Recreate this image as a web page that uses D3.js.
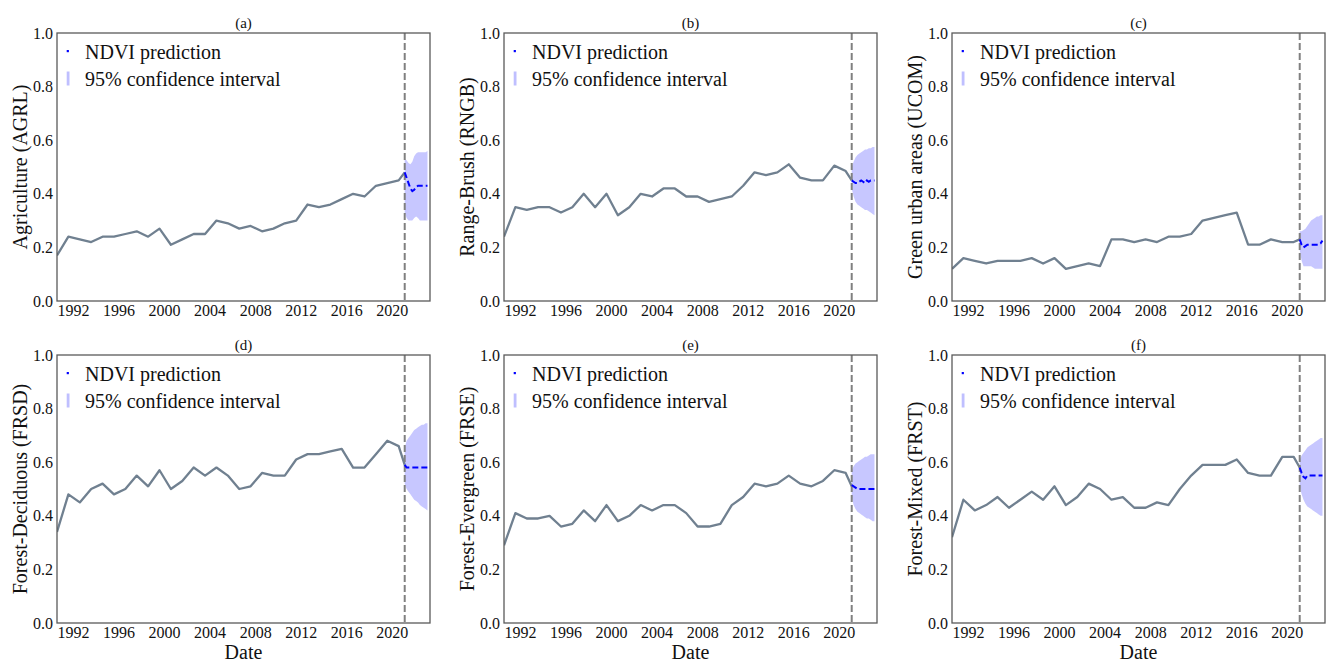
<!DOCTYPE html>
<html>
<head>
<meta charset="utf-8">
<script src="https://cdn.jsdelivr.net/npm/d3@7"></script>
<style>
  html, body { margin: 0; padding: 0; background: #fff; }
  svg { display: block; }
  svg text { font-family: "Liberation Serif", "Times New Roman", serif; }
</style>
</head>
<body>
<svg id="chart" width="1329" height="662"></svg>
<script>
// Observation dates (decimal years) and the forecast dates
const obsDates = d3.range(31).map(i => 1990.6 + i).concat([2021.13]);
const predDates = d3.range(13).map(i => 2021.13 + i / 6);
const forecastStart = 2021.13;
const yearTicks = [1992, 1996, 2000, 2004, 2008, 2012, 2016, 2020];
const valueTicks = [0, 0.2, 0.4, 0.6, 0.8, 1.0];

const panelLetters = ["(a)", "(b)", "(c)", "(d)", "(e)", "(f)"];
const panelLabels = [
  "Agriculture (AGRL)", "Range-Brush (RNGB)", "Green urban areas (UCOM)",
  "Forest-Deciduous (FRSD)", "Forest-Evergreen (FRSE)", "Forest-Mixed (FRST)"
];

// Observed NDVI per land-use class
const ndviAGRL = [0.17, 0.24, 0.23, 0.22, 0.24, 0.24, 0.25, 0.26, 0.24, 0.27, 0.21, 0.23, 0.25, 0.25, 0.30, 0.29,
                  0.27, 0.28, 0.26, 0.27, 0.29, 0.30, 0.36, 0.35, 0.36, 0.38, 0.40, 0.39, 0.43, 0.44, 0.45, 0.48];
const ndviRNGB = [0.24, 0.35, 0.34, 0.35, 0.35, 0.33, 0.35, 0.40, 0.35, 0.40, 0.32, 0.35, 0.40, 0.39, 0.42, 0.42,
                  0.39, 0.39, 0.37, 0.38, 0.39, 0.43, 0.48, 0.47, 0.48, 0.51, 0.46, 0.45, 0.45, 0.505, 0.485, 0.45];
const ndviUCOM = [0.12, 0.16, 0.15, 0.14, 0.15, 0.15, 0.15, 0.16, 0.14, 0.16, 0.12, 0.13, 0.14, 0.13, 0.23, 0.23,
                  0.22, 0.23, 0.22, 0.24, 0.24, 0.25, 0.30, 0.31, 0.32, 0.33, 0.21, 0.21, 0.23, 0.22, 0.22, 0.23];
const ndviFRSD = [0.34, 0.48, 0.45, 0.50, 0.52, 0.48, 0.50, 0.55, 0.51, 0.57, 0.50, 0.53, 0.58, 0.55, 0.58, 0.55,
                  0.50, 0.51, 0.56, 0.55, 0.55, 0.61, 0.63, 0.63, 0.64, 0.65, 0.58, 0.58, 0.63, 0.68, 0.66, 0.59];
const ndviFRSE = [0.29, 0.41, 0.39, 0.39, 0.40, 0.36, 0.37, 0.42, 0.38, 0.44, 0.38, 0.40, 0.44, 0.42, 0.44, 0.44,
                  0.41, 0.36, 0.36, 0.37, 0.44, 0.47, 0.52, 0.51, 0.52, 0.55, 0.52, 0.51, 0.53, 0.57, 0.56, 0.51];
const ndviFRST = [0.32, 0.46, 0.42, 0.44, 0.47, 0.43, 0.46, 0.49, 0.46, 0.51, 0.44, 0.47, 0.52, 0.50, 0.46, 0.47,
                  0.43, 0.43, 0.45, 0.44, 0.50, 0.55, 0.59, 0.59, 0.59, 0.61, 0.56, 0.55, 0.55, 0.62, 0.62, 0.58];

// Forecast mean with lower / upper 95% bounds
const predAGRL  = [0.48, 0.46, 0.44, 0.42, 0.41, 0.415, 0.425, 0.43, 0.43, 0.43, 0.43, 0.43, 0.43];
const lowerAGRL = [0.33, 0.31, 0.30, 0.30, 0.30, 0.31, 0.315, 0.31, 0.30, 0.30, 0.30, 0.30, 0.30];
const upperAGRL = [0.53, 0.525, 0.515, 0.51, 0.52, 0.54, 0.55, 0.555, 0.555, 0.555, 0.555, 0.555, 0.56];

const predRNGB  = [0.45, 0.445, 0.44, 0.44, 0.445, 0.45, 0.445, 0.44, 0.45, 0.445, 0.45, 0.45, 0.45];
const lowerRNGB = [0.42, 0.39, 0.37, 0.36, 0.355, 0.35, 0.345, 0.34, 0.34, 0.335, 0.33, 0.325, 0.32];
const upperRNGB = [0.50, 0.52, 0.535, 0.545, 0.55, 0.555, 0.56, 0.565, 0.565, 0.57, 0.57, 0.575, 0.575];

const predUCOM  = [0.23, 0.21, 0.20, 0.205, 0.21, 0.21, 0.21, 0.21, 0.21, 0.21, 0.21, 0.215, 0.225];
const lowerUCOM = [0.19, 0.15, 0.13, 0.13, 0.13, 0.13, 0.13, 0.125, 0.12, 0.12, 0.12, 0.12, 0.12];
const upperUCOM = [0.26, 0.26, 0.265, 0.27, 0.28, 0.29, 0.30, 0.305, 0.31, 0.315, 0.315, 0.32, 0.32];

const predFRSD  = [0.59, 0.58, 0.58, 0.58, 0.58, 0.58, 0.58, 0.58, 0.58, 0.58, 0.58, 0.58, 0.58];
const lowerFRSD = [0.52, 0.50, 0.49, 0.48, 0.47, 0.46, 0.455, 0.45, 0.44, 0.435, 0.43, 0.425, 0.42];
const upperFRSD = [0.655, 0.68, 0.69, 0.70, 0.71, 0.72, 0.725, 0.73, 0.735, 0.74, 0.74, 0.745, 0.745];

const predFRSE  = [0.515, 0.51, 0.505, 0.50, 0.50, 0.50, 0.50, 0.50, 0.50, 0.50, 0.50, 0.50, 0.50];
const lowerFRSE = [0.47, 0.44, 0.425, 0.415, 0.41, 0.405, 0.40, 0.395, 0.39, 0.39, 0.385, 0.38, 0.38];
const upperFRSE = [0.57, 0.585, 0.595, 0.60, 0.605, 0.61, 0.615, 0.62, 0.62, 0.625, 0.63, 0.63, 0.63];

const predFRST  = [0.58, 0.56, 0.545, 0.54, 0.55, 0.55, 0.55, 0.55, 0.55, 0.55, 0.55, 0.55, 0.55];
const lowerFRST = [0.51, 0.48, 0.46, 0.445, 0.435, 0.43, 0.425, 0.42, 0.415, 0.41, 0.405, 0.40, 0.40];
const upperFRST = [0.61, 0.625, 0.635, 0.645, 0.655, 0.66, 0.665, 0.67, 0.675, 0.68, 0.685, 0.69, 0.69];

const observed = [ndviAGRL, ndviRNGB, ndviUCOM, ndviFRSD, ndviFRSE, ndviFRST];
const predicted = [predAGRL, predRNGB, predUCOM, predFRSD, predFRSE, predFRST];
const lowers = [lowerAGRL, lowerRNGB, lowerUCOM, lowerFRSD, lowerFRSE, lowerFRST];
const uppers = [upperAGRL, upperRNGB, upperUCOM, upperFRSD, upperFRSE, upperFRST];

// Panel grid geometry
const colLeft = [57, 504, 952];
const rowTop = [33, 355];
const panelW = 373;
const panelH = 268;
const SERIF = "'Liberation Serif', 'Times New Roman', serif";

const svg = d3.select("#chart");

function label(sel, size) {
  return sel.attr("fill", "#111")
    .attr("font-family", SERIF)
    .style("font-family", SERIF)
    .style("font-size", size + "px");
}

panelLabels.forEach((name, i) => {
  const col = i % 3, row = Math.floor(i / 3);
  const g = svg.append("g").attr("transform", `translate(${colLeft[col]},${rowTop[row]})`);

  const x = d3.scaleLinear().domain([1990.6, 2023.35]).range([0, panelW]);
  const y = d3.scaleLinear().domain([0, 1]).range([panelH, 0]);

  const clipId = "clip" + i;
  g.append("clipPath").attr("id", clipId)
    .append("rect").attr("width", panelW).attr("height", panelH);
  const plot = g.append("g").attr("clip-path", `url(#${clipId})`);

  // confidence band
  const band = predDates.map((d, k) => ({ d, lo: lowers[i][k], hi: uppers[i][k] }));
  plot.append("path")
    .datum(band)
    .attr("fill", "#0000ff")
    .attr("fill-opacity", 0.22)
    .attr("d", d3.area().x(p => x(p.d)).y0(p => y(p.lo)).y1(p => y(p.hi)));

  // observed series
  const obs = obsDates.map((d, k) => ({ d, v: observed[i][k] }));
  plot.append("path")
    .datum(obs)
    .attr("fill", "none")
    .attr("stroke", "#708090")
    .attr("stroke-width", 2.3)
    .attr("stroke-linejoin", "round")
    .attr("d", d3.line().x(p => x(p.d)).y(p => y(p.v)));

  // forecast start marker
  plot.append("line")
    .attr("x1", x(forecastStart)).attr("x2", x(forecastStart))
    .attr("y1", 0).attr("y2", panelH)
    .attr("stroke", "#808080")
    .attr("stroke-width", 2)
    .attr("stroke-dasharray", "7,3");

  // forecast mean
  const pred = predDates.map((d, k) => ({ d, v: predicted[i][k] }));
  plot.append("path")
    .datum(pred)
    .attr("fill", "none")
    .attr("stroke", "#0000ff")
    .attr("stroke-width", 2)
    .attr("stroke-dasharray", "6,3")
    .attr("d", d3.line().x(p => x(p.d)).y(p => y(p.v)));

  // axes
  const xAxis = g.append("g")
    .attr("transform", `translate(0,${panelH})`)
    .call(d3.axisBottom(x).tickValues(yearTicks).tickFormat(d3.format("d")).tickSize(0).tickPadding(4));
  const yAxis = g.append("g")
    .call(d3.axisLeft(y).tickValues(valueTicks).tickFormat(d3.format(".1f")).tickSize(0).tickPadding(4));
  [xAxis, yAxis].forEach(ax => {
    ax.attr("font-family", SERIF);
    ax.select(".domain").remove();
    label(ax.selectAll("text"), 16);
  });

  // frame
  g.append("rect")
    .attr("width", panelW).attr("height", panelH)
    .attr("fill", "none")
    .attr("stroke", "#5a5a5a")
    .attr("stroke-width", 1.3);

  // title
  label(g.append("text"), 15)
    .attr("x", panelW / 2).attr("y", -10)
    .attr("dy", "0.35em")
    .attr("text-anchor", "middle")
    .text(panelLetters[i]);

  // y label
  label(g.append("text"), 20)
    .attr("transform", `translate(-37.5,${panelH / 2}) rotate(-90)`)
    .attr("text-anchor", "middle")
    .attr("dy", "0.35em")
    .text(name);

  // x label on bottom row
  if (row === 1) {
    label(g.append("text"), 20)
      .attr("x", panelW / 2).attr("y", panelH + 29)
      .attr("dy", "0.35em")
      .attr("text-anchor", "middle")
      .text("Date");
  }

  // legend
  const lg = g.append("g");
  lg.append("rect")
    .attr("x", 9.7).attr("y", 17).attr("width", 2.2).attr("height", 2.2)
    .attr("fill", "#0000ff");
  label(lg.append("text"), 20)
    .attr("x", 28).attr("y", 18.7).attr("dy", "0.35em")
    .text("NDVI prediction");
  lg.append("rect")
    .attr("x", 9.7).attr("y", 38.5).attr("width", 2.8).attr("height", 14)
    .attr("fill", "#0000ff").attr("fill-opacity", 0.25);
  label(lg.append("text"), 20)
    .attr("x", 28).attr("y", 46.3).attr("dy", "0.35em")
    .text("95% confidence interval");
});
</script>
</body>
</html>
